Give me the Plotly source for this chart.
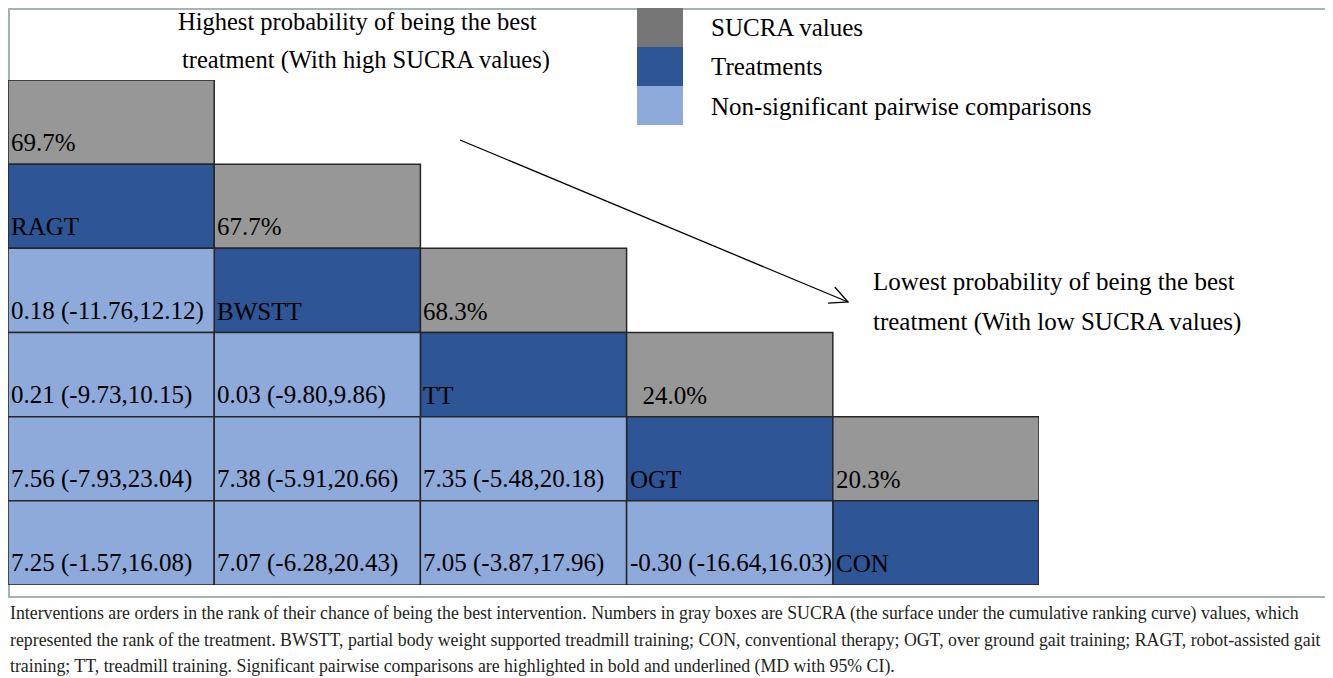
import math
import plotly.graph_objects as go

# treatments in rank order (columns of the league table)
treatments = ["RAGT", "BWSTT", "TT", "OGT", "CON"]
sucra = [69.7, 67.7, 68.3, 24.0, 20.3]

# pairwise comparisons, lower triangle: row = later treatment, col = earlier
md_values = [
    [0.18],
    [0.21, 0.03],
    [7.56, 7.38, 7.35],
    [7.25, 7.07, 7.05, -0.30],
]
ci_low = [
    [-11.76],
    [-9.73, -9.80],
    [-7.93, -5.91, -5.48],
    [-1.57, -6.28, -3.87, -16.64],
]
ci_high = [
    [12.12],
    [10.15, 9.86],
    [23.04, 20.66, 20.18],
    [16.08, 20.43, 17.96, 16.03],
]

legend_labels = ["SUCRA values", "Treatments", "Non-significant pairwise comparisons"]

caption_lines = [
    "Interventions are orders in the rank of their chance of being the best intervention. Numbers in gray boxes are SUCRA (the surface under the cumulative ranking curve) values, which",
    "represented the rank of the treatment. BWSTT, partial body weight supported treadmill training; CON, conventional therapy; OGT, over ground gait training; RAGT, robot-assisted gait",
    "training; TT, treadmill training. Significant pairwise comparisons are highlighted in bold and underlined (MD with 95% CI).",
]

# the page body has an 8px margin, so the figure is drawn 8px in from the window corner
OFF = 8
W, H = 1333 - OFF, 678 - OFF
GRAY = "#979797"
DARK = "#2E5596"
LIGHT = "#8EAADB"
SERIF = "Liberation Serif"


def px(x):
    return (x - OFF) / W


def py(y):
    return 1 - (y - OFF) / H


shapes = []
annotations = []


def cell(col, row, color, text, lead=""):
    shapes.append(dict(type="rect", xref="x", yref="y", x0=col, x1=col + 1, y0=row, y1=row + 1,
                       fillcolor=color, line=dict(color="#262626", width=1.5), layer="below"))
    annotations.append(dict(xref="x", yref="y", x=col, y=row + 1, text=lead + text, showarrow=False,
                            xanchor="left", yanchor="bottom", xshift=1, yshift=6,
                            font=dict(family=SERIF, size=25, color="black")))


# outer frame (left/top edges sit at the figure edge)
shapes.append(dict(type="rect", xref="paper", yref="paper", x0=px(9), x1=px(1329), y0=py(597), y1=py(9),
                   line=dict(color="#A7B3AF", width=2), layer="below"))

for k, name in enumerate(treatments):
    lead = "\u00a0\u00a0" if k == 3 else ""
    cell(k, k, GRAY, f"{sucra[k]:.1f}%", lead)
    cell(k, k + 1, DARK, name)

for j, row_vals in enumerate(md_values):
    for i, md in enumerate(row_vals):
        txt = f"{md:.2f} ({ci_low[j][i]:.2f},{ci_high[j][i]:.2f})"
        cell(i, j + 2, LIGHT, txt)

# legend swatches
for n, (col, lab) in enumerate(zip(["#767676", DARK, LIGHT], legend_labels)):
    y0 = 8 + n * 39
    shapes.append(dict(type="rect", xref="paper", yref="paper", x0=px(637), x1=px(683),
                       y0=py(y0 + 39), y1=py(y0), fillcolor=col, line=dict(width=0)))
    annotations.append(dict(xref="paper", yref="paper", x=px(709), y=py(y0 + 20), text=lab,
                            showarrow=False, xanchor="left", yanchor="middle",
                            font=dict(family=SERIF, size=25, color="black")))

# side notes
notes = [
    (176, 21, "Highest probability of being the best", 24.5),
    (180, 60, "treatment (With high SUCRA values)", 24.5),
    (871, 281, "Lowest probability of being the best", 25),
    (871, 322, "treatment (With low SUCRA values)", 25),
]
for x, y, t, s in notes:
    annotations.append(dict(xref="paper", yref="paper", x=px(x), y=py(y), text=t, showarrow=False,
                            xanchor="left", yanchor="middle",
                            font=dict(family=SERIF, size=s, color="black")))

# arrow with open head
ax0, ay0, ax1, ay1 = 460, 140, 848, 302
shapes.append(dict(type="line", xref="paper", yref="paper", x0=px(ax0), y0=py(ay0), x1=px(ax1), y1=py(ay1),
                   line=dict(color="black", width=1.3)))
ang = math.atan2(ay1 - ay0, ax1 - ax0)
head = []
for d in (-0.45, 0.45):
    head.append((ax1 - 20 * math.cos(ang + d), ay1 - 20 * math.sin(ang + d)))
path = f"M {px(head[0][0])},{py(head[0][1])} L {px(ax1)},{py(ay1)} L {px(head[1][0])},{py(head[1][1])}"
shapes.append(dict(type="path", xref="paper", yref="paper", path=path, line=dict(color="black", width=1.3)))

# caption
for n, line in enumerate(caption_lines):
    annotations.append(dict(xref="paper", yref="paper", x=px(8), y=py(613 + n * 26.5), text=line,
                            showarrow=False, xanchor="left", yanchor="middle",
                            font=dict(family=SERIF, size=17.8, color="#231f20")))

fig = go.Figure()
fig.update_layout(
    width=W, height=H,
    margin=dict(l=0, r=0, t=0, b=0),
    paper_bgcolor="white", plot_bgcolor="white",
    xaxis=dict(domain=[px(8), px(1039)], range=[0, 5], visible=False, fixedrange=True),
    yaxis=dict(domain=[py(585), py(80)], range=[6, 0], visible=False, fixedrange=True),
    shapes=shapes,
    annotations=annotations,
    showlegend=False,
)

fig.write_html("out.html")
